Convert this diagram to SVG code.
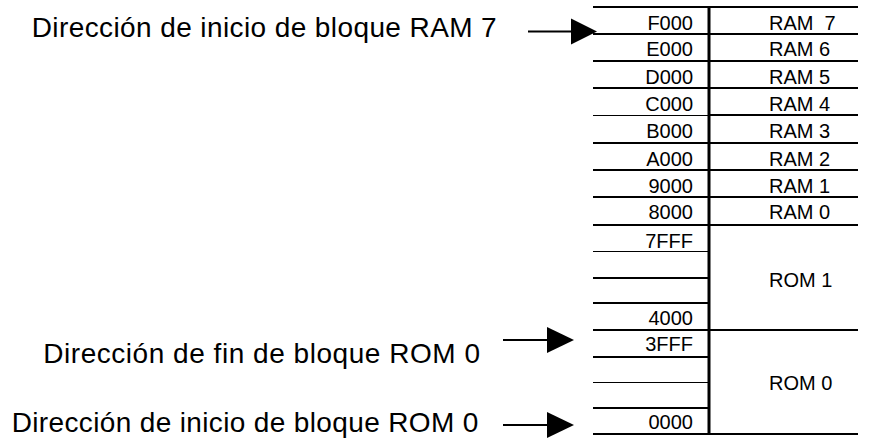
<svg xmlns="http://www.w3.org/2000/svg" width="884" height="441" viewBox="0 0 884 441">
<style>
.bg{fill:#fff}
.ln{stroke:#000;stroke-width:2;fill:none}
.thin{stroke:#000;stroke-width:1.2;fill:none}
.vl{stroke:#000;stroke-width:3;fill:none}
.addr{font-family:"Liberation Sans",Arial,sans-serif;font-size:20px;fill:#000;text-anchor:end}
.blk{font-family:"Liberation Sans",Arial,sans-serif;font-size:20px;fill:#000}
.lbl{font-family:"Liberation Sans",Arial,sans-serif;font-size:28px;fill:#000}
.arr{stroke:#000;stroke-width:2;fill:none}
.head{fill:#000}
</style>
<rect class="bg" x="0" y="0" width="884" height="441"/>

<g id="address-column">
  <line class="ln" x1="593" y1="7" x2="709" y2="7"/>
  <line class="ln" x1="593" y1="34" x2="709" y2="34"/>
  <line class="ln" x1="593" y1="61" x2="709" y2="61"/>
  <line class="ln" x1="593" y1="88" x2="709" y2="88"/>
  <line class="thin" x1="593" y1="115.5" x2="709" y2="115.5"/>
  <line class="ln" x1="593" y1="143" x2="709" y2="143"/>
  <line class="ln" x1="593" y1="170" x2="709" y2="170"/>
  <line class="ln" x1="593" y1="197" x2="709" y2="197"/>
  <line class="ln" x1="593" y1="225" x2="709" y2="225"/>
  <line class="thin" x1="593" y1="251.5" x2="709" y2="251.5"/>
  <line class="ln" x1="593" y1="278" x2="709" y2="278"/>
  <line class="ln" x1="593" y1="303" x2="709" y2="303"/>
  <line class="ln" x1="593" y1="330" x2="709" y2="330"/>
  <line class="ln" x1="593" y1="357" x2="709" y2="357"/>
  <line class="thin" x1="593" y1="382.5" x2="709" y2="382.5"/>
  <line class="ln" x1="593" y1="408" x2="709" y2="408"/>
  <line class="ln" x1="593" y1="434" x2="709" y2="434"/>
  <text class="addr" x="693" y="29.5">F000</text>
  <text class="addr" x="693" y="55.5">E000</text>
  <text class="addr" x="693" y="84">D000</text>
  <text class="addr" x="693" y="110.7">C000</text>
  <text class="addr" x="693" y="137.5">B000</text>
  <text class="addr" x="693" y="166">A000</text>
  <text class="addr" x="693" y="192.5">9000</text>
  <text class="addr" x="693" y="219">8000</text>
  <text class="addr" x="693" y="247.5">7FFF</text>
  <text class="addr" x="693" y="325">4000</text>
  <text class="addr" x="693" y="351">3FFF</text>
  <text class="addr" x="693" y="429">0000</text>
</g>

<g id="block-column">
  <line class="vl" x1="709" y1="6" x2="709" y2="435"/>
  <line class="ln" x1="709" y1="7" x2="858" y2="7"/>
  <line class="ln" x1="709" y1="34" x2="858" y2="34"/>
  <line class="ln" x1="709" y1="61" x2="858" y2="61"/>
  <line class="ln" x1="709" y1="88" x2="858" y2="88"/>
  <line class="ln" x1="709" y1="115" x2="858" y2="115"/>
  <line class="ln" x1="709" y1="143" x2="858" y2="143"/>
  <line class="ln" x1="709" y1="170" x2="858" y2="170"/>
  <line class="ln" x1="709" y1="197" x2="858" y2="197"/>
  <line class="ln" x1="709" y1="225" x2="858" y2="225"/>
  <line class="ln" x1="709" y1="330" x2="858" y2="330"/>
  <line class="ln" x1="709" y1="434" x2="858" y2="434"/>
</g>

<g id="ram7"><text class="blk" x="769" y="29.5" xml:space="preserve">RAM  7</text></g>
<g id="ram6"><text class="blk" x="769" y="55.5">RAM 6</text></g>
<g id="ram5"><text class="blk" x="769" y="84">RAM 5</text></g>
<g id="ram4"><text class="blk" x="769" y="110.7">RAM 4</text></g>
<g id="ram3"><text class="blk" x="769" y="137.5">RAM 3</text></g>
<g id="ram2"><text class="blk" x="769" y="166">RAM 2</text></g>
<g id="ram1"><text class="blk" x="769" y="192.5">RAM 1</text></g>
<g id="ram0"><text class="blk" x="769" y="219">RAM 0</text></g>
<g id="rom1"><text class="blk" x="769" y="286.5">ROM 1</text></g>
<g id="rom0"><text class="blk" x="769" y="389.5">ROM 0</text></g>

<g id="label-ram7-start"><text class="lbl" x="31.7" y="37" textLength="465">Dirección de inicio de bloque RAM 7</text></g>
<g id="label-rom0-end"><text class="lbl" x="43.3" y="363.3" textLength="436.7">Dirección de fin de bloque ROM 0</text></g>
<g id="label-rom0-start"><text class="lbl" x="11.7" y="431.7" textLength="466.6">Dirección de inicio de bloque ROM 0</text></g>

<g id="connectors">
  <line class="arr" x1="528" y1="31.5" x2="572" y2="31.5"/>
  <polygon class="head" points="571,18.5 597,31.5 571,44.5"/>
  <line class="arr" x1="503" y1="340" x2="548" y2="340"/>
  <polygon class="head" points="547,327 574,340 547,353"/>
  <line class="arr" x1="503" y1="425" x2="548" y2="425"/>
  <polygon class="head" points="547,412 574,425 547,438"/>
</g>
</svg>
